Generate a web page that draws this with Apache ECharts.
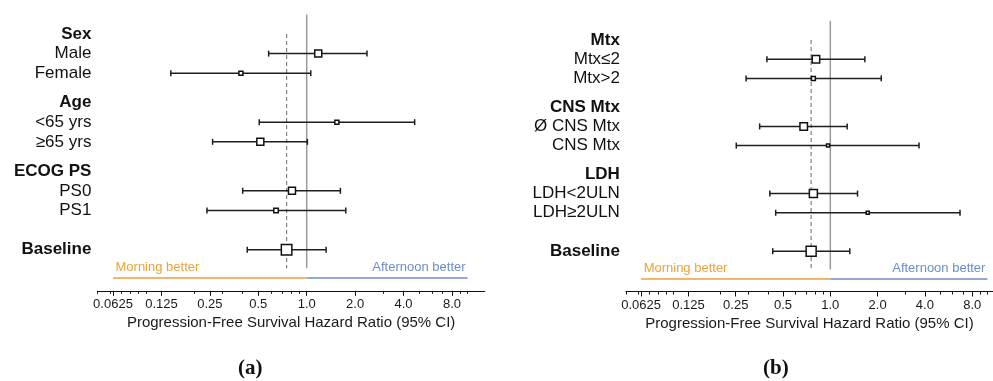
<!DOCTYPE html>
<html>
<head>
<meta charset="utf-8">
<script src="https://cdn.jsdelivr.net/npm/echarts@6/dist/echarts.min.js"></script>
<style>
  html, body { margin: 0; padding: 0; background: #fff; }
  #chart { width: 993px; height: 381px; }
</style>
</head>
<body>
<div id="chart"></div>
<script>
// forest plots, PFS hazard ratio, morning vs afternoon

// axis range + ticks (hazard ratio)
var axisMinHR = 0.05;
var leftAxisMaxHR = 12.8;
var rightAxisMaxHR = 10.85; // panel (b) is cut at the page edge
var tickHR = [0.0625, 0.125, 0.25, 0.5, 1, 2, 4, 8];
var tickText = ['0.0625', '0.125', '0.25', '0.5', '1.0', '2.0', '4.0', '8.0'];
var minorHR = [0.05, 0.06, 0.07, 0.08, 0.09, 0.1, 0.2, 0.3, 0.4, 0.6, 0.7, 0.8, 0.9, 3, 5, 6, 7, 9, 10];

// panel (a)
var leftLabels = ['Sex', 'Male', 'Female', 'Age', '<65 yrs', '≥65 yrs', 'ECOG PS', 'PS0', 'PS1', 'Baseline'];
var leftRows = [0, 1, 2, 3.5, 4.5, 5.5, 7, 8, 9, 11];
var leftHeader = [1, 0, 0, 1, 0, 0, 1, 0, 0, 1];
var leftHR = [null, 1.18, 0.39, null, 1.54, 0.515, null, 0.81, 0.645, 0.75];
var leftLow = [null, 0.58, 0.143, null, 0.507, 0.26, null, 0.40, 0.24, 0.427];
var leftHigh = [null, 2.37, 1.06, null, 4.69, 1.01, null, 1.62, 1.75, 1.32];
var leftBoxPx = [0, 7, 4, 0, 4, 7, 0, 7, 4.5, 10.5];

// panel (b)
var rightLabels = ['Mtx', 'Mtx≤2', 'Mtx>2', 'CNS Mtx', 'Ø CNS Mtx', 'CNS Mtx', 'LDH', 'LDH<2ULN', 'LDH≥2ULN', 'Baseline'];
var rightRows = [0, 1, 2, 3.5, 4.5, 5.5, 7, 8, 9, 11];
var rightHeader = [1, 0, 0, 1, 0, 0, 1, 0, 0, 1];
var rightHR = [null, 0.81, 0.78, null, 0.677, 0.967, null, 0.78, 1.73, 0.755];
var rightLow = [null, 0.395, 0.291, null, 0.355, 0.252, null, 0.412, 0.449, 0.43];
var rightHigh = [null, 1.66, 2.11, null, 1.28, 3.67, null, 1.49, 6.69, 1.33];
var rightBoxPx = [0, 7.5, 4, 0, 7.5, 3, 0, 8, 3, 10];

// favour bar
var favourFromHR = 0.0625;
var favourToHR = 10;
var favourText = ['Morning better', 'Afternoon better'];

var FONT = '"Liberation Sans", Arial, sans-serif';
var ORANGE = '#E9A23B';
var BLUE = '#6C8EC8';
var lg = function (v) { return Math.log(v) / Math.LN2; };

var grids = [
    {left: 97.4, top: 14.4, width: 387.4, height: 276.4},
    {left: 625.9, top: 20.8, width: 367.1, height: 270.7}
];

var xAxes = [], yAxes = [], series = [];

function buildPanel(gi, maxHR, labels, rows, header, hr, low, high, boxPx) {
    var mainX = xAxes.length;
    // main axis: line, major ticks, labels, name
    xAxes.push({
        type: 'value', gridIndex: gi, position: 'bottom', min: lg(axisMinHR), max: lg(maxHR),
        name: 'Progression-Free Survival Hazard Ratio (95% CI)',
        nameLocation: 'middle', nameGap: 23,
        nameTextStyle: {fontFamily: FONT, fontSize: 15, color: '#1a1a1a'},
        axisLine: {show: true, onZero: false, lineStyle: {color: '#111', width: 1}},
        axisTick: {show: true, length: 5, customValues: tickHR.map(lg), lineStyle: {color: '#111', width: 1}},
        axisLabel: {
            show: true, margin: 7, fontFamily: FONT, fontSize: 13, color: '#1a1a1a',
            customValues: tickHR.map(lg),
            formatter: function (v) {
                for (var i = 0; i < tickHR.length; i++) {
                    if (Math.abs(lg(tickHR[i]) - v) < 1e-6) return tickText[i];
                }
                return '';
            }
        },
        splitLine: {show: false}
    });
    // minor ticks only
    xAxes.push({
        type: 'value', gridIndex: gi, position: 'bottom', min: lg(axisMinHR), max: lg(maxHR),
        axisLine: {show: false, onZero: false},
        axisTick: {show: true, length: 3, customValues: minorHR.filter(function (m) { return m <= maxHR; }).map(lg),
            lineStyle: {color: '#111', width: 1}},
        axisLabel: {show: false},
        splitLine: {show: false}
    });
    var yi = yAxes.length;
    yAxes.push({
        type: 'value', gridIndex: gi, inverse: true, min: -1, max: 13.1,
        axisLine: {show: false}, axisTick: {show: false}, splitLine: {show: false},
        axisLabel: {
            show: true, margin: 6, customValues: rows,
            formatter: function (v) {
                for (var i = 0; i < rows.length; i++) {
                    if (Math.abs(rows[i] - v) < 1e-6) {
                        return header[i] ? '{h|' + labels[i] + '}' : '{n|' + labels[i] + '}';
                    }
                }
                return '';
            },
            rich: {
                h: {fontFamily: FONT, fontSize: 17, fontWeight: 'bold', color: '#111'},
                n: {fontFamily: FONT, fontSize: 17, color: '#111'}
            }
        }
    });

    var baseHR = hr[hr.length - 1];
    // solid no-effect line
    series.push({
        type: 'line', xAxisIndex: mainX, yAxisIndex: yi, symbol: 'none', silent: true,
        data: [[lg(1), -1], [lg(1), 11.95]],
        lineStyle: {color: '#9a9a9a', width: 1.5}, z: 1
    });
    // dashed baseline line
    series.push({
        type: 'line', xAxisIndex: mainX, yAxisIndex: yi, symbol: 'none', silent: true,
        data: [[lg(baseHR), 0], [lg(baseHR), 11.95]],
        lineStyle: {color: '#808080', width: 1.2, type: [4, 3]}, z: 1
    });
    // favour bars
    series.push({
        type: 'line', xAxisIndex: mainX, yAxisIndex: yi, symbol: 'none', silent: true,
        data: [[lg(favourFromHR), 12.45], [lg(1), 12.45]],
        lineStyle: {color: ORANGE, width: 1.5}, z: 1
    });
    series.push({
        type: 'line', xAxisIndex: mainX, yAxisIndex: yi, symbol: 'none', silent: true,
        data: [[lg(1), 12.45], [lg(favourToHR), 12.45]],
        lineStyle: {color: BLUE, width: 1.5}, z: 1
    });
    // favour texts
    series.push({
        type: 'custom', xAxisIndex: mainX, yAxisIndex: yi, silent: true, z: 2,
        data: [[lg(favourFromHR), 11.9, 0], [lg(favourToHR), 11.9, 1]],
        renderItem: function (params, api) {
            var k = api.value(2);
            var p = api.coord([api.value(0), api.value(1)]);
            return {
                type: 'text',
                style: {
                    x: p[0] + (k ? -2 : 2.5), y: p[1], text: favourText[k],
                    fill: k ? BLUE : ORANGE, fontFamily: FONT, fontSize: 13,
                    align: k ? 'right' : 'left', verticalAlign: 'middle'
                }
            };
        }
    });
    // CI bars + boxes
    var ci = [];
    rows.forEach(function (r, i) {
        if (hr[i] == null) return;
        ci.push([lg(low[i]), lg(high[i]), lg(hr[i]), r, boxPx[i]]);
    });
    series.push({
        type: 'custom', xAxisIndex: mainX, yAxisIndex: yi, silent: true, z: 3,
        encode: {x: [0, 1, 2], y: 3},
        data: ci,
        renderItem: function (params, api) {
            var y = api.value(3);
            var lo = api.coord([api.value(0), y]);
            var hi = api.coord([api.value(1), y]);
            var pt = api.coord([api.value(2), y]);
            var s = api.value(4);
            var st = {stroke: '#1e1e1e', lineWidth: 1.5};
            return {
                type: 'group',
                children: [
                    {type: 'line', shape: {x1: lo[0], y1: lo[1], x2: hi[0], y2: hi[1]}, style: st},
                    {type: 'line', shape: {x1: lo[0], y1: lo[1] - 3, x2: lo[0], y2: lo[1] + 3}, style: st},
                    {type: 'line', shape: {x1: hi[0], y1: hi[1] - 3, x2: hi[0], y2: hi[1] + 3}, style: st},
                    {type: 'rect', shape: {x: pt[0] - s / 2, y: pt[1] - s / 2, width: s, height: s},
                        style: {fill: '#fff', stroke: '#111', lineWidth: 1.5}}
                ]
            };
        }
    });
}

buildPanel(0, leftAxisMaxHR, leftLabels, leftRows, leftHeader, leftHR, leftLow, leftHigh, leftBoxPx);
buildPanel(1, rightAxisMaxHR, rightLabels, rightRows, rightHeader, rightHR, rightLow, rightHigh, rightBoxPx);

var capStyle = {
    fontFamily: '"Liberation Serif", "DejaVu Serif", serif', fontSize: 21, color: '#111',
    rich: {b: {fontFamily: '"Liberation Serif", "DejaVu Serif", serif', fontSize: 21, fontWeight: 'bold', color: '#111'}}
};

var chart = echarts.init(document.getElementById('chart'));
chart.setOption({
    animation: false,
    backgroundColor: '#fff',
    title: [
        {text: '({b|a})', left: 238, top: 358, padding: 0, textStyle: capStyle},
        {text: '({b|b})', left: 763, top: 358, padding: 0, textStyle: capStyle}
    ],
    grid: grids,
    xAxis: xAxes,
    yAxis: yAxes,
    series: series
});
</script>
</body>
</html>
